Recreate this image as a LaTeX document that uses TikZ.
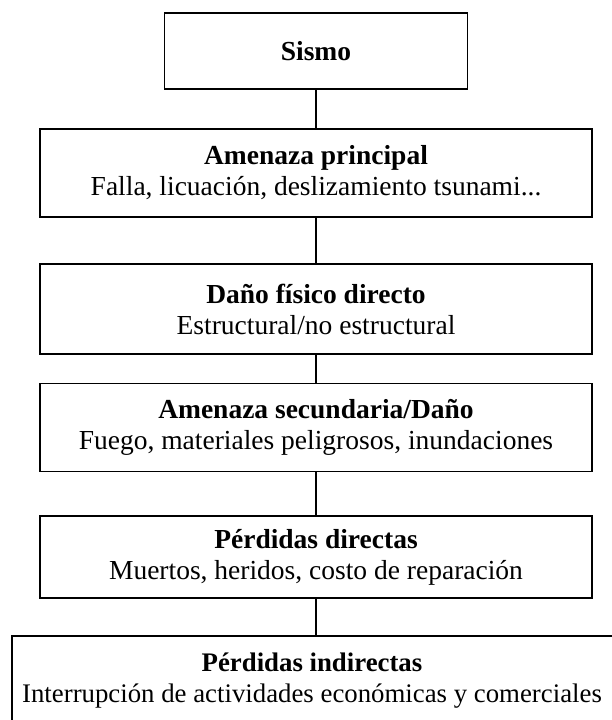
\documentclass[tikz,border=0pt]{standalone}
\usepackage{fontspec}
\setmainfont{Liberation Serif}
\begin{document}
\begin{tikzpicture}[x=1pt,y=-1pt,
  box/.style={draw=black,line width=1.8pt,fill=white,align=center,inner sep=0pt,
    font=\fontsize{27.5}{31}\selectfont},
  link/.style={draw=black,line width=1.6pt}]
\useasboundingbox (0,0) rectangle (611,720);
\node[box,minimum width=303pt,minimum height=76pt] (s) at (316,51) {\textbf{Sismo}};
\node[box,minimum width=552pt,minimum height=88pt] (a) at (316,173)
  {\textbf{Amenaza principal}\\Falla, licuación, deslizamiento tsunami...};
\node[box,minimum width=552pt,minimum height=90pt] (d) at (316,309)
  {\textbf{Daño físico directo}\\Estructural/no estructural};
\node[box,minimum width=552pt,minimum height=88pt] (m) at (316,427.5)
  {\textbf{Amenaza secundaria/Daño}\\Fuego, materiales peligrosos, inundaciones};
\node[box,minimum width=552pt,minimum height=82pt] (p) at (316,557)
  {\textbf{Pérdidas directas}\\Muertos, heridos, costo de reparación};
\node[box,minimum width=608pt,minimum height=90pt,font=\fontsize{26.8}{31}\selectfont] (i) at (316,681) {};
\node[align=center,inner sep=0pt,font=\fontsize{26.8}{31}\selectfont] (it) at (312,681)
  {\textbf{Pérdidas indirectas}\\Interrupción de actividades económicas y comerciales};
\draw[link] (s.south) -- (a.north);
\draw[link] (a.south) -- (d.north);
\draw[link] (d.south) -- (m.north);
\draw[link] (m.south) -- (p.north);
\draw[link] (p.south) -- (i.north);
\end{tikzpicture}
\end{document}
